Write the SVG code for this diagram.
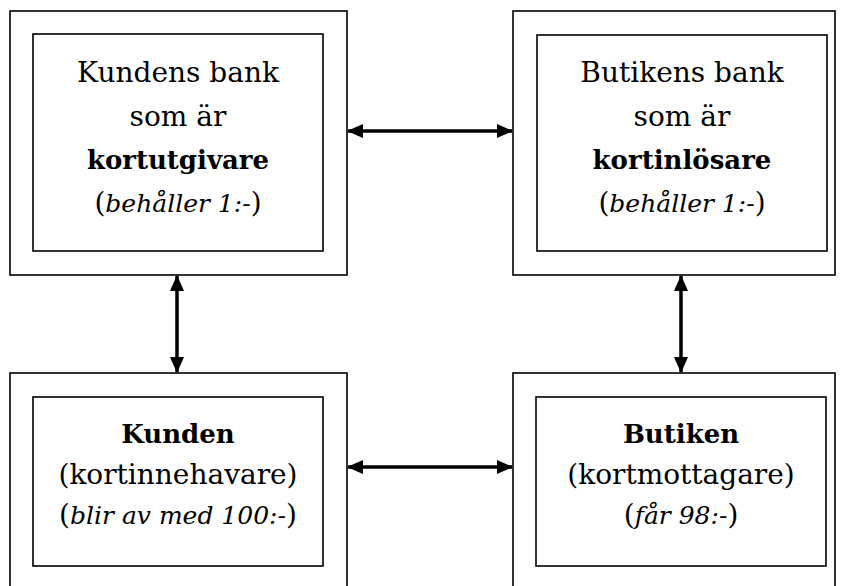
<svg xmlns="http://www.w3.org/2000/svg" width="844" height="586" viewBox="0 0 844 586">
<defs>
<style>
.box{fill:none;stroke:#000;stroke-width:1.6}
.t{font-family:"DejaVu Serif","Liberation Serif",serif;font-size:28px;text-anchor:middle;fill:#000}
.b{font-weight:bold;font-size:26px}
.i{font-style:italic;font-size:25px}
.c{stroke:#000;stroke-width:3.5;fill:none;marker-start:url(#ah);marker-end:url(#ah)}
</style>
<marker id="ah" viewBox="0 0 16 14" refX="15" refY="7" markerWidth="16" markerHeight="14" markerUnits="userSpaceOnUse" orient="auto-start-reverse">
<path d="M0,0 L16,7 L0,14 Z" fill="#000"/>
</marker>
</defs>
<rect width="844" height="586" fill="#fff"/>
<g id="kundens-bank">
<rect class="box" x="10" y="11" width="337" height="264"/>
<rect class="box" x="33" y="34" width="290" height="217"/>
<text class="t" x="178" y="82">Kundens bank</text>
<text class="t" x="178" y="126">som är</text>
<text class="t b" x="178" y="169">kortutgivare</text>
<text class="t" x="178" y="212">(<tspan class="i">behåller 1:-</tspan>)</text>
</g>
<g id="butikens-bank">
<rect class="box" x="513" y="11" width="322" height="264"/>
<rect class="box" x="537" y="35" width="290" height="216"/>
<text class="t" x="682" y="82">Butikens bank</text>
<text class="t" x="682" y="126">som är</text>
<text class="t b" x="682" y="169">kortinlösare</text>
<text class="t" x="682" y="212">(<tspan class="i">behåller 1:-</tspan>)</text>
</g>
<g id="kunden">
<rect class="box" x="10" y="373" width="337" height="220"/>
<rect class="box" x="33" y="397" width="290" height="169"/>
<text class="t b" x="178" y="443">Kunden</text>
<text class="t" x="178" y="484">(kortinnehavare)</text>
<text class="t" x="178" y="524">(<tspan class="i">blir av med 100:-</tspan>)</text>
</g>
<g id="butiken">
<rect class="box" x="513" y="373" width="322" height="220"/>
<rect class="box" x="536" y="397" width="290" height="169"/>
<text class="t b" x="681" y="443">Butiken</text>
<text class="t" x="681" y="484">(kortmottagare)</text>
<text class="t" x="681" y="524">(<tspan class="i">får 98:-</tspan>)</text>
</g>
<g id="connectors">
<line class="c" x1="348" y1="131" x2="512" y2="131"/>
<line class="c" x1="348" y1="467" x2="512" y2="467"/>
<line class="c" x1="177" y1="276" x2="177" y2="372"/>
<line class="c" x1="681" y1="276" x2="681" y2="372"/>
</g>
</svg>
